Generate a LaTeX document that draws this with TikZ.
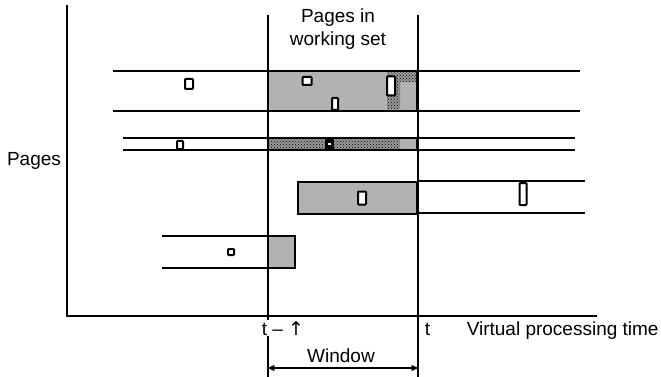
\documentclass[tikz,border=0pt]{standalone}
\usepackage{fontspec}
\setmainfont{Liberation Sans}
\newfontfamily\arrowfont{DejaVu Sans}
\usetikzlibrary{arrows,patterns,positioning}

\tikzset{
  trace/.style={line width=2.4pt},
  wsbox/.style={draw, fill=black!30, line width=2.8pt},
  stipple/.style={pattern=crosshatch dots, pattern color=black},
  pageref/.style={draw, fill=white, line width=2pt, inner sep=0pt, rounded corners=0.8pt}
}

\begin{document}
\begin{tikzpicture}[x=1pt,y=-1pt,>=stealth',line width=1.5pt,
    every node/.style={font=\fontsize{19}{23}\selectfont}]
  \useasboundingbox (0,0) rectangle (661,377);

  % axes
  \coordinate (ytop) at (67,5);
  \coordinate (org)  at (67,316);
  \coordinate (xend) at (597,316);
  \draw (ytop) -- (org) -- (xend);

  % row 1
  \draw[trace] (113,71) -- (580,71);
  \draw[trace] (113,111) -- (580,111);
  \draw[wsbox] (268,71) rectangle (417,111);
  \fill[black!30] (400,82) rectangle (416,109.5);
  \fill[black!40] (387,72.5) -- (416,72.5) -- (416,82) -- (400,82) -- (400,109.5) -- (387,109.5) -- cycle;
  \fill[stipple] (387,72.5) -- (416,72.5) -- (416,82) -- (400,82) -- (400,109.5) -- (387,109.5) -- cycle;
  \node[pageref, minimum width=8pt, minimum height=10pt] (r1a) at (189,84) {};
  \node[pageref, minimum width=9pt, minimum height=8pt]  (r1b) at (307,81) {};
  \node[pageref, minimum width=6pt, minimum height=12pt] (r1c) at (335,104) {};
  \node[pageref, minimum width=8pt, minimum height=19pt] (r1d) at (391,86) {};

  % row 2
  \draw[trace] (123,138) -- (575,138);
  \draw[trace] (123,150) -- (575,150);
  \draw[wsbox, line width=2.4pt] (268,138) rectangle (417,150);
  \fill[black!40] (268,139.2) rectangle (400,148.8);
  \fill[stipple] (268,139.2) rectangle (400,148.8);
  \fill[black] (325,138) rectangle (334,150);
  \node[fill=white, inner sep=0pt, minimum size=2.5pt] (r2b) at (329.5,144) {};
  \node[pageref, minimum width=6pt, minimum height=8pt] (r2a) at (180,145) {};

  % row 3
  \draw[trace] (417,181) -- (585,181);
  \draw[trace] (417,213) -- (585,213);
  \draw[wsbox] (298,182) rectangle (417,214);
  \node[pageref, minimum width=8pt, minimum height=13pt] (r3a) at (362,198) {};
  \node[pageref, minimum width=7pt, minimum height=22pt] (r3b) at (523,194) {};

  % row 4
  \draw[trace] (162,236) -- (270,236);
  \draw[trace] (162,268) -- (270,268);
  \draw[wsbox] (268,236) rectangle (295,268);
  \node[pageref, minimum width=6pt, minimum height=6pt] (r4a) at (231,252) {};

  % window
  \coordinate (wltop) at (268,15);
  \coordinate (wlbot) at (268,377);
  \coordinate (wrtop) at (418,15);
  \coordinate (wrbot) at (418,377);
  \draw (wltop) -- (wlbot);
  \draw (wrtop) -- (wrbot);
  \coordinate (wl) at (268,368);
  \coordinate (wr) at (418,368);
  \draw[<->, line width=1.3pt] (wl) -- (wr);

  % labels
  \node (pages) at (34,161) {Pages};
  \node[align=center] (wset) at (338,29) {Pages in\\working set};
  \node[fill=white, inner sep=1pt, anchor=base west] (tw) at (260,335) {t – {\arrowfont ↑}};
  \node[inner sep=0pt, anchor=base west] (t) at (424,335) {t};
  \node[inner sep=0pt, anchor=base west] (vpt) at (466,335) {Virtual processing time};
  \node (win) at (341,356) {Window};
\end{tikzpicture}
\end{document}
